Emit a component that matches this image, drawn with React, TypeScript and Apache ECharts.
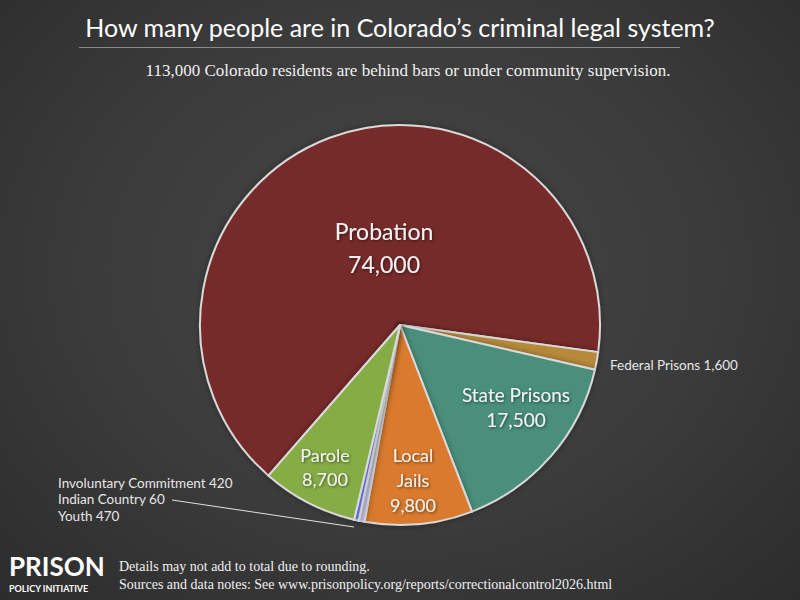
import React, { useEffect, useRef } from "react";
import * as echarts from "echarts";

const categories = [
  "Probation",
  "Federal Prisons",
  "State Prisons",
  "Local Jails",
  "Youth",
  "Indian Country",
  "Involuntary Commitment",
  "Parole",
];
const values = [74000, 1600, 17500, 9800, 470, 60, 420, 8700];
const colors = [
  "#772b2b",
  "#b78a3a",
  "#4a8f7b",
  "#d97a2d",
  "#c3c8f4",
  "#a3acf0",
  "#6b7cf3",
  "#86ad45",
];

const titleText = "How many people are in Colorado\u2019s criminal legal system?";
const subtitleText =
  "113,000 Colorado residents are behind bars or under community supervision.";
const footerLines = [
  "Details may not add to total due to rounding.",
  "Sources and data notes: See www.prisonpolicy.org/reports/correctionalcontrol2026.html",
];

const fmt = (v: number) => v.toLocaleString("en-US");
const idx = (name: string) => categories.indexOf(name);

export default function App() {
  const ref = useRef<HTMLDivElement>(null);

  useEffect(() => {
    if (!ref.current) return;
    const chart = echarts.init(ref.current, null, { renderer: "svg" });
    const sansFont = "Lato";
    const serifFont = "'Liberation Serif', 'Times New Roman', Times, serif";
    const labelFill = "#f2f2f2";
    const shadow = {
      textShadowColor: "rgba(0,0,0,0.55)",
      textShadowBlur: 3,
      textShadowOffsetX: 1,
      textShadowOffsetY: 1,
    };

    const inLabel = (x: number, y: number, text: string, size: number, lh: number) => ({
      type: "text",
      x,
      y,
      z: 10,
      style: {
        text,
        fill: labelFill,
        fontFamily: sansFont,
        fontSize: size,
        align: "center",
        verticalAlign: "middle",
        lineHeight: lh,
        ...shadow,
      },
    });

    const sideLabel = (x: number, y: number, text: string) => ({
      type: "text",
      x,
      y,
      z: 10,
      style: {
        text,
        fill: "#e6e6e6",
        fontFamily: sansFont,
        fontSize: 13.5,
        align: "left",
        verticalAlign: "middle",
      },
    });

    const p = idx("Probation");
    const sp = idx("State Prisons");
    const lj = idx("Local Jails");
    const pa = idx("Parole");
    const fp = idx("Federal Prisons");
    const ic = idx("Involuntary Commitment");
    const ind = idx("Indian Country");
    const yo = idx("Youth");

    chart.setOption({
      animation: false,
      backgroundColor: "transparent",
      series: [
        {
          type: "pie",
          center: [400, 325],
          radius: [0, 200],
          startAngle: 228.9,
          clockwise: true,
          avoidLabelOverlap: false,
          label: { show: false },
          labelLine: { show: false },
          itemStyle: {
            borderColor: "#d9d9d9",
            borderWidth: 2,
            shadowColor: "rgba(0,0,0,0.35)",
            shadowBlur: 6,
          },
          emphasis: { disabled: true },
          data: categories.map((name, i) => ({
            name,
            value: values[i],
            itemStyle: { color: colors[i] },
          })),
        },
      ],
      graphic: [
        {
          type: "text",
          x: 400,
          y: 27,
          style: {
            text: titleText,
            fill: "#ffffff",
            fontFamily: sansFont,
            fontSize: 25,
            align: "center",
            verticalAlign: "middle",
          },
        },
        {
          type: "line",
          shape: { x1: 79, y1: 47.5, x2: 680, y2: 47.5 },
          style: { stroke: "#8a8a8a", lineWidth: 1 },
        },
        {
          type: "text",
          x: 408,
          y: 70,
          style: {
            text: subtitleText,
            fill: "#f0f0f0",
            font: `17px ${serifFont}`,
            align: "center",
            verticalAlign: "middle",
          },
        },
        inLabel(384, 247, `${categories[p]}\n${fmt(values[p])}`, 23, 33),
        inLabel(516, 407, `${categories[sp]}\n${fmt(values[sp])}`, 19, 25),
        inLabel(413, 480, `${categories[lj].replace(" ", "\n")}\n${fmt(values[lj])}`, 18, 25),
        inLabel(325, 467, `${categories[pa]}\n${fmt(values[pa])}`, 18, 24),
        sideLabel(610, 365, `${categories[fp]} ${fmt(values[fp])}`),
        sideLabel(58, 483, `${categories[ic]} ${fmt(values[ic])}`),
        sideLabel(58, 499, `${categories[ind]} ${fmt(values[ind])}`),
        sideLabel(58, 516, `${categories[yo]} ${fmt(values[yo])}`),
        {
          type: "line",
          shape: { x1: 172, y1: 500, x2: 354, y2: 527 },
          style: { stroke: "#e0e0e0", lineWidth: 1 },
        },
        {
          type: "text",
          x: 9,
          y: 566,
          style: {
            text: "PRISON",
            fill: "#ffffff",
            fontFamily: sansFont,
            fontWeight: "bold",
            fontSize: 26,
            align: "left",
            verticalAlign: "middle",
          },
        },
        {
          type: "text",
          x: 9,
          y: 588,
          style: {
            text: "POLICY INITIATIVE",
            fill: "#ffffff",
            fontFamily: sansFont,
            fontWeight: "bold",
            fontSize: 9,
            align: "left",
            verticalAlign: "middle",
          },
        },
        ...footerLines.map((t, i) => ({
          type: "text",
          x: 119,
          y: 566 + i * 18,
          style: {
            text: t,
            fill: "#f0f0f0",
            font: `14px ${serifFont}`,
            align: "left",
            verticalAlign: "middle",
          },
        })),
      ],
    });
    return () => chart.dispose();
  }, []);

  return (
    <div
      style={{
        position: "absolute",
        left: 0,
        top: 0,
        width: 800,
        height: 600,
        background:
          "radial-gradient(ellipse at 50% 45%, #464646 0%, #3b3b3b 55%, #2c2c2c 100%)",
      }}
    >
      <div ref={ref} style={{ width: 800, height: 600 }} />
    </div>
  );
}
